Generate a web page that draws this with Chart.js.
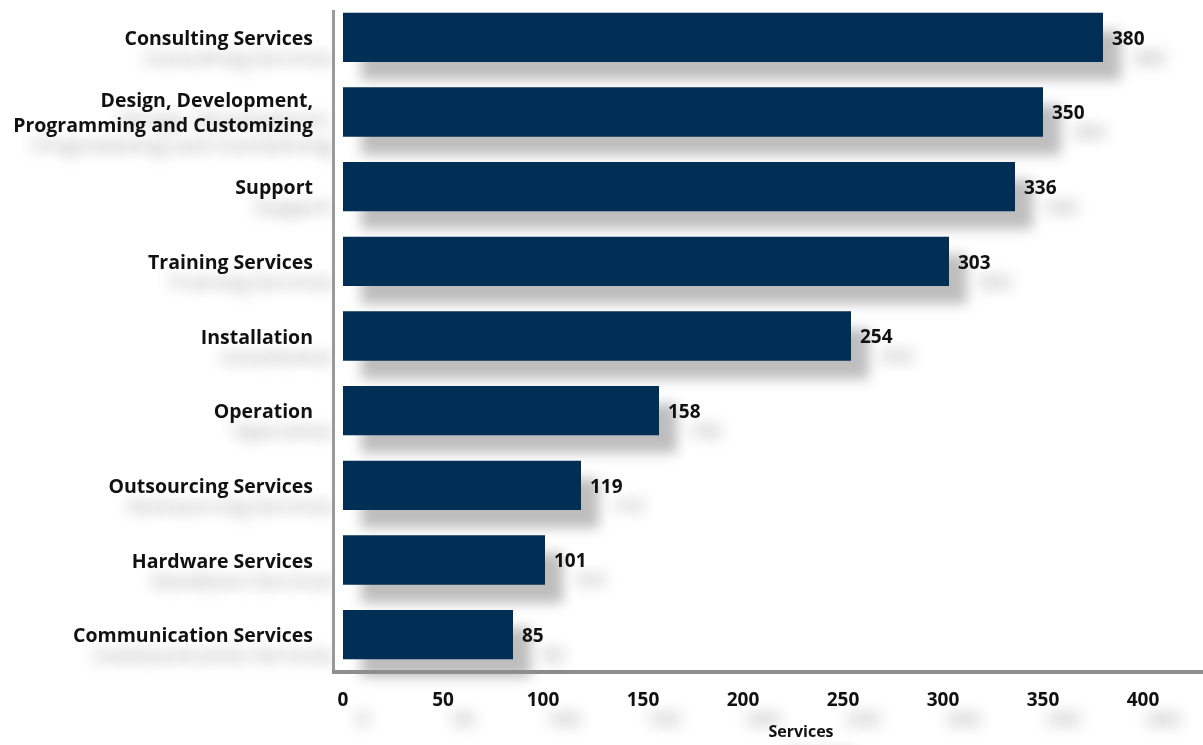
<!DOCTYPE html>
<html>
<head>
<meta charset="utf-8">
<title>Services</title>
<script src="https://cdn.jsdelivr.net/npm/chart.js"></script>
<style>
  html, body { margin: 0; padding: 0; background: #fff; overflow: hidden; }
  /* the axis runs on past the right edge of the window */
  #wrap { width: 1269px; height: 745px; }
</style>
</head>
<body>
<div id="wrap"><canvas id="servicesChart"></canvas></div>
<script>
const categories = [
    'Consulting Services',
    ['Design, Development,', 'Programming and Customizing'],
    'Support',
    'Training Services',
    'Installation',
    'Operation',
    'Outsourcing Services',
    'Hardware Services',
    'Communication Services'
];
const serviceCounts = [380, 350, 336, 303, 254, 158, 119, 101, 85];
const tickValues = [0, 50, 100, 150, 200, 250, 300, 350, 400];

const FONT = '"Open Sans", "Noto Sans", sans-serif';
const TEXT_COLOR = '#111111';
const textShadow = { color: 'rgba(0,0,0,0.32)', blur: 16, x: 20, y: 20 };
const barShadow = { color: 'rgba(0,0,0,0.26)', blur: 12, x: 18, y: 18 };

function setShadow(ctx, s) {
    ctx.shadowColor = s ? s.color : 'rgba(0,0,0,0)';
    ctx.shadowBlur = s ? s.blur : 0;
    ctx.shadowOffsetX = s ? s.x : 0;
    ctx.shadowOffsetY = s ? s.y : 0;
}

// soft drop shadows behind text and bars, plus the gray axis lines and value labels
const shadowPlugin = {
    id: 'shadows',
    beforeDraw(chart) {
        chart.ctx.save();
        setShadow(chart.ctx, textShadow);
    },
    beforeDatasetsDraw(chart) {
        setShadow(chart.ctx, barShadow);
    },
    afterDatasetsDraw(chart) {
        const ctx = chart.ctx;
        const area = chart.chartArea;
        setShadow(ctx, null);

        ctx.strokeStyle = '#9a9a9a';
        ctx.lineWidth = 3;
        ctx.beginPath();
        ctx.moveTo(area.left + 0.5, area.top + 10);
        ctx.lineTo(area.left + 0.5, area.bottom);
        ctx.stroke();
        ctx.strokeStyle = '#8e8e8e';
        ctx.lineWidth = 4;
        ctx.beginPath();
        ctx.moveTo(area.left - 1, area.bottom);
        ctx.lineTo(chart.width, area.bottom);
        ctx.stroke();

        setShadow(ctx, textShadow);
        ctx.font = 'bold 19px ' + FONT;
        ctx.fillStyle = TEXT_COLOR;
        ctx.textAlign = 'left';
        ctx.textBaseline = 'middle';
        const meta = chart.getDatasetMeta(0);
        meta.data.forEach((bar, i) => {
            ctx.fillText(String(chart.data.datasets[0].data[i]), bar.x + 9, bar.y + 2);
        });
    },
    afterDraw(chart) {
        chart.ctx.restore();
    }
};

const ctx = document.getElementById('servicesChart').getContext('2d');
const servicesChart = new Chart(ctx, {
    type: 'bar',
    data: {
        labels: categories,
        datasets: [
            {
                label: 'Services',
                data: serviceCounts,
                backgroundColor: '#012e54',
                borderWidth: 0,
                barPercentage: 0.66,
                categoryPercentage: 1,
                clip: false
            }
        ]
    },
    options: {
        indexAxis: 'y',
        responsive: true,
        maintainAspectRatio: false,
        animation: false,
        layout: { padding: 0 },
        plugins: {
            legend: { display: false },
            tooltip: { enabled: false }
        },
        scales: {
            x: {
                type: 'linear',
                min: -5,
                max: 463,
                afterBuildTicks(scale) {
                    scale.ticks = tickValues.map(v => ({ value: v }));
                },
                afterFit(scale) {
                    scale.height = 73;
                    scale.paddingLeft = 0;
                    scale.paddingRight = 0;
                },
                grid: { display: false, drawTicks: false },
                border: { display: false },
                ticks: {
                    maxRotation: 0,
                    autoSkip: false,
                    padding: 17,
                    color: TEXT_COLOR,
                    font: { family: FONT, size: 19, weight: 'bold' }
                },
                title: {
                    display: true,
                    text: 'Services',
                    color: TEXT_COLOR,
                    padding: { top: 0, bottom: 3 },
                    font: { family: FONT, size: 16, weight: 'bold' }
                }
            },
            y: {
                afterFit(scale) {
                    scale.width = 333;
                    scale.paddingTop = 0;
                    scale.paddingBottom = 0;
                },
                grid: { display: false, drawTicks: false },
                border: { display: false },
                ticks: {
                    autoSkip: false,
                    padding: 20,
                    labelOffset: 2,
                    color: TEXT_COLOR,
                    font: { family: FONT, size: 19.5, weight: 'bold', lineHeight: 1.24 }
                }
            }
        }
    },
    plugins: [shadowPlugin]
});
</script>
</body>
</html>
